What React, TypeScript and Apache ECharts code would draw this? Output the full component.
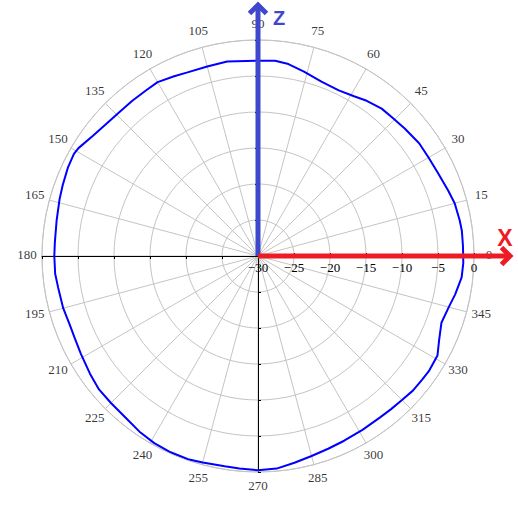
import React, { useEffect, useRef } from "react";
import * as echarts from "echarts";

// Measured pattern: angle in degrees (counter-clockwise from +X) and relative level in dB
const angleDeg = [
  0, 3, 7, 10, 15, 19, 25, 30, 35, 41, 46, 50, 55, 59, 64, 70, 76, 81, 85, 90,
  99, 105, 111, 115, 120, 124, 129, 134, 139, 144, 149, 151, 155, 160, 164, 170, 176, 180,
  185, 189, 195, 200, 204, 209, 215, 220, 225, 231, 236, 241, 246, 251, 255, 261, 265, 270,
  275, 280, 285, 290, 295, 301, 307, 311, 315, 319, 323, 326, 331, 335, 340, 345, 349, 354, 358, 360,
];
const levelDb = [
  -1.5, -1.5, -1.47, -1.55, -1.72, -2.07, -2.49, -2.65, -2.68, -3.0, -3.22, -3.28, -3.68, -4.11, -4.41, -4.24, -3.6, -3.01, -2.78, -2.87,
  -2.66, -2.75, -2.68, -2.45, -2.11, -2.24, -2.26, -2.26, -2.05, -1.62, -0.91, -0.77, -0.88, -1.14, -1.33, -1.6, -1.72, -1.71,
  -1.72, -1.9, -1.99, -2.17, -2.11, -1.89, -1.51, -1.17, -1.12, -0.96, -0.57, -0.28, -0.16, -0.15, -0.31, -0.44, -0.36, -0.24,
  -0.36, -0.84, -1.24, -1.51, -1.69, -1.83, -1.9, -1.82, -1.72, -1.5, -1.45, -1.38, -1.5, -2.25, -2.89, -2.57, -2.1, -1.56, -1.47, -1.5,
];

// Angle tick labels around the rim
const angleTickLabels = [
  0, 15, 30, 45, 60, 75, 90, 105, 120, 135, 150, 165,
  180, 195, 210, 225, 240, 255, 270, 285, 300, 315, 330, 345,
];

// Axis scales
const angleRange = [0, 360];
const angleStep = 15;
const radiusRange = [-30, 0];
const radiusStep = 5;

// Black cross through the centre: directions and tick sides
const crossDirections = [0, 90, 180, 270];
const tickSides = [false, true];

const CX = 258;
const CY = 256;
const R = 216;
const LABEL_R = 231;

const GRID = "#c4c4c4";
const SERIF = "'Liberation Serif', 'Times New Roman', serif";
const SANS = "'Liberation Sans', Arial, sans-serif";
const Z_BLUE = "#3f48cc";
const X_RED = "#ed1c24";

export default function App() {
  const ref = useRef<HTMLDivElement>(null);

  useEffect(() => {
    if (!ref.current) return;
    const chart = echarts.init(ref.current, undefined, { renderer: "svg" });

    const polar: any[] = [{ center: [CX, CY], radius: R }];
    const angleAxis: any[] = [
      {
        polarIndex: 0,
        type: "value",
        min: angleRange[0],
        max: angleRange[1],
        interval: angleStep,
        startAngle: 0,
        clockwise: false,
        axisLine: { show: true, lineStyle: { color: GRID, width: 1 } },
        axisTick: { show: false },
        axisLabel: { show: false },
        splitLine: { show: true, lineStyle: { color: GRID, width: 1 } },
      },
    ];
    const radiusAxis: any[] = [
      {
        polarIndex: 0,
        type: "value",
        min: radiusRange[0],
        max: radiusRange[1],
        interval: radiusStep,
        axisLine: { show: true, lineStyle: { color: "#000", width: 1 } },
        axisTick: { show: true, length: 3, lineStyle: { color: "#000" } },
        axisLabel: {
          margin: -18,
          color: "#000",
          fontFamily: SERIF,
          fontSize: 13,
          formatter: (v: number) => String(v).replace("-", "\u2212"),
        },
        splitLine: { show: true, lineStyle: { color: GRID, width: 1 } },
      },
    ];

    // Extra polar systems that only draw the black axis arms with ticks on both sides
    crossDirections.forEach((dir) => {
      tickSides.forEach((inside) => {
        const idx = polar.length;
        polar.push({ center: [CX, CY], radius: R });
        angleAxis.push({
          polarIndex: idx,
          type: "value",
          min: angleRange[0],
          max: angleRange[1],
          startAngle: dir,
          show: false,
        });
        radiusAxis.push({
          polarIndex: idx,
          type: "value",
          min: radiusRange[0],
          max: radiusRange[1],
          interval: radiusStep,
          axisLine: { show: true, lineStyle: { color: "#000", width: 1 } },
          axisTick: { show: true, inside, length: 3, lineStyle: { color: "#000" } },
          axisLabel: { show: false },
          splitLine: { show: false },
        });
      });
    });

    // Label ring: a slightly larger polar system whose rim carries the centred angle labels
    const labelPolar = polar.length;
    polar.push({ center: [CX, CY], radius: LABEL_R });
    angleAxis.push({
      polarIndex: labelPolar,
      type: "value",
      min: angleRange[0],
      max: angleRange[1],
      startAngle: 0,
      clockwise: false,
      show: false,
    });
    radiusAxis.push({ polarIndex: labelPolar, type: "value", min: 0, max: 1, show: false });

    const data = angleDeg.map((a, i) => [levelDb[i], a]);

    chart.setOption({
      animation: false,
      backgroundColor: "#fff",
      polar,
      angleAxis,
      radiusAxis,
      series: [
        {
          type: "line",
          coordinateSystem: "polar",
          polarIndex: 0,
          data,
          showSymbol: false,
          smooth: false,
          lineStyle: { color: "#0000ff", width: 2 },
          z: 5,
        },
        {
          type: "scatter",
          coordinateSystem: "polar",
          polarIndex: labelPolar,
          data: angleTickLabels.map((a) => [1, a]),
          symbolSize: 1,
          itemStyle: { color: "rgba(0,0,0,0)" },
          silent: true,
          label: {
            show: true,
            position: "inside",
            offset: [0, -2],
            color: "#000",
            fontFamily: SERIF,
            fontSize: 13,
            formatter: (p: any) => String(p.value[1]),
          },
          z: 4,
        },
      ],
      graphic: [
        // Z axis arrow
        {
          type: "line",
          z: 100,
          shape: { x1: CX, y1: CY, x2: CX, y2: 6 },
          style: { stroke: Z_BLUE, lineWidth: 5 },
        },
        {
          type: "polyline",
          z: 100,
          shape: { points: [[CX - 8.5, 13.5], [CX, 5], [CX + 8.5, 13.5]] },
          style: { stroke: Z_BLUE, lineWidth: 5, fill: null, lineJoin: "miter" },
        },
        {
          type: "text",
          z: 100,
          x: 279,
          y: 18,
          style: {
            text: "Z",
            fill: Z_BLUE,
            font: `bold 20px ${SANS}`,
            align: "center",
            verticalAlign: "middle",
          },
        },
        // X axis arrow
        {
          type: "line",
          z: 100,
          shape: { x1: CX, y1: CY, x2: 509, y2: CY },
          style: { stroke: X_RED, lineWidth: 5 },
        },
        {
          type: "polyline",
          z: 100,
          shape: { points: [[501.5, CY - 8.5], [510, CY], [501.5, CY + 8.5]] },
          style: { stroke: X_RED, lineWidth: 5, fill: null, lineJoin: "miter" },
        },
        {
          type: "text",
          z: 100,
          x: 505,
          y: 238,
          style: {
            text: "X",
            fill: X_RED,
            font: `bold 23px ${SANS}`,
            align: "center",
            verticalAlign: "middle",
          },
        },
      ],
    });

    return () => chart.dispose();
  }, []);

  return (
    <div
      ref={ref}
      style={{ position: "fixed", left: 0, top: 0, width: 518, height: 512, background: "#fff" }}
    />
  );
}
